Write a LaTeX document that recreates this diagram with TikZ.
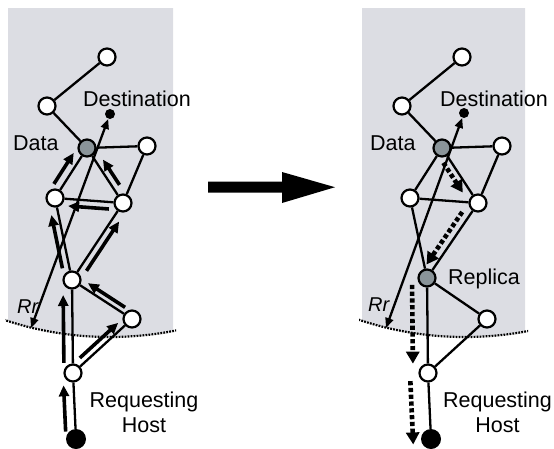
\documentclass[tikz,border=0pt]{standalone}
\usepackage{fontspec}
\setmainfont{Liberation Sans}
\usetikzlibrary{calc,arrows.meta}
\definecolor{regiongray}{RGB}{220,221,227}
\definecolor{datagray}{RGB}{138,148,153}
\tikzset{
  vtx/.style={circle,draw,line width=2.2pt,fill=white,minimum size=17pt,inner sep=0pt},
  datavtx/.style={vtx,fill=datagray},
  destdot/.style={circle,fill=black,minimum size=10pt,inner sep=0pt},
  hostdot/.style={circle,fill=black,minimum size=20pt,inner sep=0pt},
  edge/.style={line width=2.3pt},
  msg/.style={line width=3.6pt,-{Triangle[length=11pt,width=10pt]}},
  dmsg/.style={line width=4.6pt,dash pattern=on 4.2pt off 2.6pt,-{Triangle[length=12pt,width=13pt]}},
  radiusarrow/.style={line width=2.3pt,{Triangle[length=10pt,width=8pt]}-{Triangle[length=10pt,width=8pt]}},
  boundary/.style={line width=2.2pt,dash pattern=on 1.8pt off 1.2pt},
  lbl/.style={font=\fontsize{21.5}{25}\selectfont,inner sep=0pt},
  rlbl/.style={font=\fontsize{20}{24}\selectfont\itshape,inner sep=0pt,anchor=base west},
}
% style, from, to, t1, t2, signed offset (positive = left of travel)
\newcommand\msgarrow[6]{%
  \draw[#1] ($(#2)!#4!(#3)!#6!90:(#3)$) -- ($(#2)!#5!(#3)!#6!-90:(#2)$);}
\begin{document}
\begin{tikzpicture}[x=1pt,y=-1pt]
\useasboundingbox (0,0) rectangle (554,448);
% ---------- regions ----------
\begin{scope}
  \clip (8,8) rectangle (173,448);
  \fill[regiongray] (110,4) circle[radius=333pt];
\end{scope}
\begin{scope}
  \clip (5,300) rectangle (176,448);
  \draw[boundary] (110,4) circle[radius=333pt];
\end{scope}
\begin{scope}
  \clip (362,8) rectangle (525,448);
  \fill[regiongray] (465,4) circle[radius=333pt];
\end{scope}
\begin{scope}
  \clip (359,300) rectangle (528,448);
  \draw[boundary] (465,4) circle[radius=333pt];
\end{scope}
% ---------- big arrow ----------
\fill (208,181.5) -- (282,181.5) -- (282,172) -- (335,187.2) -- (282,203) -- (282,192.5) -- (208,192.5) -- cycle;
% ---------- left panel ----------
\node[vtx] (lT) at (107,57) {};
\node[vtx] (lN) at (47,106) {};
\node[destdot] (lDest) at (110,114) {};
\node[datavtx] (lD) at (87,148) {};
\node[vtx] (lR) at (147,146) {};
\node[vtx] (lLM) at (55,198) {};
\node[vtx] (lRM) at (123,203) {};
\node[vtx] (lL) at (72,280) {};
\node[vtx] (lRL) at (132,319) {};
\node[vtx] (lBW) at (73,373) {};
\node[hostdot] (lH) at (76,439) {};
\coordinate (lRrEnd) at (31,328);
\foreach \a/\b in {lT/lN,lN/lD,lD/lR,lD/lLM,lD/lRM,lR/lRM,lLM/lRM,lLM/lL,lRM/lL,lL/lBW,lL/lRL,lRL/lBW,lBW/lH}
  \draw[edge] (\a) -- (\b);
\draw[radiusarrow] (lRrEnd) -- (lDest);
\msgarrow{msg}{lH}{lBW}{0.12}{0.82}{10pt}
\msgarrow{msg}{lBW}{lL}{0.11}{0.84}{9pt}
\msgarrow{msg}{lBW}{lRL}{0.19}{0.84}{6.5pt}
\msgarrow{msg}{lRL}{lL}{0.17}{0.79}{-6pt}
\msgarrow{msg}{lL}{lRM}{0.17}{0.81}{-7pt}
\msgarrow{msg}{lL}{lLM}{0.16}{0.81}{7pt}
\msgarrow{msg}{lRM}{lLM}{0.2}{0.8}{7pt}
\msgarrow{msg}{lLM}{lD}{0.19}{0.81}{8.5pt}
\msgarrow{msg}{lRM}{lD}{0.26}{0.72}{-7pt}
\node[lbl,anchor=base west] (lDestLbl) at (83,106) {Destination};
\node[lbl,anchor=base west] (lDataLbl) at (13,150) {Data};
\node[lbl,anchor=north,align=center] (lReqLbl) at (144,392) {Requesting\\Host};
\node[rlbl] (lRr) at (17,313) {Rr};
% ---------- right panel ----------
\node[vtx] (rT) at (462,57) {};
\node[vtx] (rN) at (402,106) {};
\node[destdot] (rDest) at (464,113) {};
\node[datavtx] (rD) at (442,148) {};
\node[vtx] (rR) at (502,146) {};
\node[vtx] (rLM) at (410,198) {};
\node[vtx] (rRM) at (478,203) {};
\node[datavtx] (rL) at (427,278) {};
\node[vtx] (rRL) at (487,319) {};
\node[vtx] (rBW) at (428,373) {};
\node[hostdot] (rH) at (431,439) {};
\coordinate (rRrEnd) at (386,328);
\foreach \a/\b in {rT/rN,rN/rD,rD/rR,rD/rLM,rD/rRM,rR/rRM,rLM/rRM,rLM/rL,rRM/rL,rL/rBW,rL/rRL,rRL/rBW,rBW/rH}
  \draw[edge] (\a) -- (\b);
\draw[radiusarrow] (rRrEnd) -- (rDest);
\msgarrow{dmsg}{rD}{rRM}{0.2}{0.74}{-7pt}
\msgarrow{dmsg}{rRM}{rL}{0.18}{0.88}{-8pt}
\msgarrow{dmsg}{rL}{rBW}{0.07}{0.9}{-15pt}
\msgarrow{dmsg}{rBW}{rH}{0.11}{1.07}{-18pt}
\node[lbl,anchor=base west] (rDestLbl) at (440,106) {Destination};
\node[lbl,anchor=base west] (rDataLbl) at (370,150) {Data};
\node[lbl,anchor=base west] (rRepLbl) at (448,284) {Replica};
\node[lbl,anchor=north,align=center] (rReqLbl) at (497.5,392) {Requesting\\Host};
\node[rlbl] (rRr) at (368,311) {Rr};
\end{tikzpicture}
\end{document}
